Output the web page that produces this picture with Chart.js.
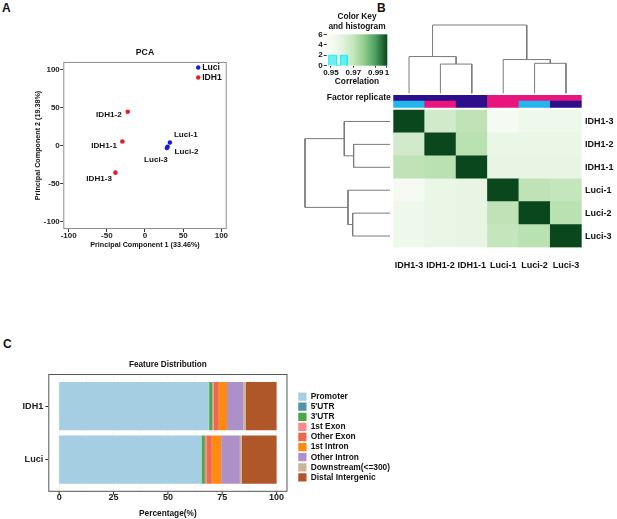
<!DOCTYPE html>
<html>
<head>
<meta charset="utf-8">
<script src="https://cdn.jsdelivr.net/npm/chart.js@4.4.1/dist/chart.umd.min.js"></script>
<style>
  html, body { margin: 0; padding: 0; background: #fff; }
  body { width: 617px; height: 519px; position: relative; overflow: hidden; font-family: 'Liberation Sans', Arial, sans-serif; }
  canvas { position: absolute; }
  .tag { position: absolute; font-weight: bold; font-size: 12px; line-height: 12px; color: #111; }
</style>
</head>
<body>
<div class="tag" style="left:2px;top:2px">A</div>
<div class="tag" style="left:377px;top:2px">B</div>
<div class="tag" style="left:3px;top:338px">C</div>
<canvas id="pca" width="215" height="215" style="left:25px;top:40px"></canvas>
<canvas id="key" width="100" height="85" style="left:300px;top:5px"></canvas>
<canvas id="topTree" width="215" height="80" style="left:380px;top:20px"></canvas>
<canvas id="sideTree" width="105" height="160" style="left:295px;top:100px"></canvas>
<canvas id="heat" width="307" height="195" style="left:310px;top:85px"></canvas>
<canvas id="feat" width="400" height="164" style="left:0px;top:355px"></canvas>
<script>
// ---- data: PCA
const idhNames = ["IDH1-1", "IDH1-2", "IDH1-3"];
const idhPC1 = [-29.6, -22.6, -38.7];
const idhPC2 = [5.2, 44.4, -35.8];
const luciNames = ["Luci-1", "Luci-2", "Luci-3"];
const luciPC1 = [32.6, 29.6, 28.7];
const luciPC2 = [3.9, -1.7, -3.4];
const pcaTicks = [-100, -50, 0, 50, 100];

// ---- data: correlation heatmap (display order)
const sampleNames = ["IDH1-3", "IDH1-2", "IDH1-1", "Luci-1", "Luci-2", "Luci-3"];
const corrIDH13 = [1.000, 0.966, 0.971, 0.951, 0.955, 0.955];
const corrIDH12 = [0.966, 1.000, 0.972, 0.957, 0.957, 0.957];
const corrIDH11 = [0.971, 0.972, 1.000, 0.958, 0.958, 0.958];
const corrLuci1 = [0.951, 0.957, 0.958, 1.000, 0.971, 0.970];
const corrLuci2 = [0.955, 0.957, 0.958, 0.971, 1.000, 0.972];
const corrLuci3 = [0.955, 0.957, 0.958, 0.970, 0.972, 1.000];
const groupLevel = ["IDH1", "IDH1", "IDH1", "Luci", "Luci", "Luci"];
const replicateLevel = ["a", "b", "c", "b", "a", "c"];
// dendrogram merges (hclust style: negative = leaf, positive = earlier merge)
const mergeA = [-2, -1, -5, -4, 2];
const mergeB = [-3, 1, -6, 3, 4];
const mergeHeight = [0.428, 0.538, 0.439, 0.494, 1.0];
// colour key histogram
const keyTicks = [0.95, 0.97, 0.99, 1];
const keyCountTicks = [0, 2, 4, 6];
const histLow = [0.948, 0.9585];
const histHigh = [0.955, 0.9645];
const histCount = [2, 2];

// ---- data: feature distribution
const featureNames = ["Promoter", "5'UTR", "3'UTR", "1st Exon", "Other Exon", "1st Intron", "Other Intron", "Downstream(<=300)", "Distal Intergenic"];
const groups = ["IDH1", "Luci"];
const idh1Pct = [68.8, 0.2, 1.4, 0.7, 2.3, 3.8, 7.5, 1.0, 14.3];
const luciPct = [65.4, 0.2, 1.4, 1.0, 2.2, 4.3, 8.6, 0.8, 16.1];
const pctTicks = [0, 25, 50, 75, 100];

// ---- styles
const FONT = "'Liberation Sans', Arial, sans-serif";
Chart.defaults.font.family = FONT;
Chart.defaults.font.weight = "bold";
Chart.defaults.color = "#111";
Chart.defaults.animation = false;
Chart.defaults.responsive = false;
Chart.defaults.events = [];
Chart.defaults.plugins.tooltip.enabled = false;

const featureColors = ["#a6cee3", "#4f95a3", "#4aa946", "#f8898a", "#ec6a4b", "#fe8a12", "#ae90c8", "#c9b59b", "#b0572a"];
const greenStops = [[0.95, "#f7fcf5"], [0.96, "#e4f3e0"], [0.97, "#c4e6bc"], [0.98, "#8fcc8b"], [0.99, "#4a9e5f"], [1.0, "#0a471d"]];
const groupColors = { IDH1: "#2d0f8c", Luci: "#e8157f" };
const replicateColors = { a: "#22b6ee", b: "#e8157f", c: "#2d0f8c" };
const treeColor = "#7a7a7a";
const nudge = {
  "IDH1-1": [-5.5, 4, "right"], "IDH1-2": [-6, 3, "right"], "IDH1-3": [-3.5, 6.5, "right"],
  "Luci-1": [4, -7.5, "left"], "Luci-2": [7, 5, "left"], "Luci-3": [-11, 12, "center"]
};

function hexRgb(h) { return [1, 3, 5].map(i => parseInt(h.slice(i, i + 2), 16)); }
function corrColor(v) {
  if (v <= greenStops[0][0]) return greenStops[0][1];
  for (let i = 1; i < greenStops.length; i++) {
    if (v <= greenStops[i][0]) {
      const t = (v - greenStops[i - 1][0]) / (greenStops[i][0] - greenStops[i - 1][0]);
      const a = hexRgb(greenStops[i - 1][1]), b = hexRgb(greenStops[i][1]);
      return "rgb(" + a.map((c, k) => Math.round(c + (b[k] - c) * t)).join(",") + ")";
    }
  }
  return greenStops[greenStops.length - 1][1];
}
function fixedTicks(list) { return s => { s.ticks = list.map(v => ({ value: v })); }; }

// ================= A: PCA =================
const pcaPlugin = {
  id: "pcaExtras",
  afterDatasetsDraw(chart) {
    const { ctx, chartArea: a } = chart;
    ctx.save();
    ctx.strokeStyle = "#8c8c8c";
    ctx.lineWidth = 1;
    ctx.strokeRect(a.left + 0.5, a.top + 0.5, a.width - 1, a.height - 1);
    ctx.font = "bold 8.1px " + FONT;
    ctx.fillStyle = "#111";
    ctx.textBaseline = "middle";
    chart.data.datasets.forEach((ds, di) => {
      chart.getDatasetMeta(di).data.forEach((pt, i) => {
        const name = ds.names[i];
        const n = nudge[name];
        ctx.textAlign = n[2];
        ctx.fillText(name, pt.x + n[0], pt.y + n[1]);
      });
    });
    // legend inside panel
    chart.data.datasets.forEach((ds, di) => {
      const y = a.top + 5.5 + di * 10;
      ctx.fillStyle = ds.backgroundColor;
      ctx.beginPath();
      ctx.arc(a.right - 28.5, y, 2.2, 0, Math.PI * 2);
      ctx.fill();
      ctx.fillStyle = "#111";
      ctx.textAlign = "left";
      ctx.font = "bold 8.6px " + FONT;
      ctx.fillText(ds.label, a.right - 24.5, y);
    });
    ctx.restore();
  }
};

new Chart(document.getElementById("pca"), {
  type: "scatter",
  data: {
    datasets: [
      { label: "Luci", names: luciNames, data: luciPC1.map((x, i) => ({ x: x, y: luciPC2[i] })), backgroundColor: "#1a1ae0", pointRadius: 2.3, borderWidth: 0 },
      { label: "IDH1", names: idhNames, data: idhPC1.map((x, i) => ({ x: x, y: idhPC2[i] })), backgroundColor: "#e81e25", pointRadius: 2.3, borderWidth: 0 }
    ]
  },
  options: {
    layout: { padding: { left: 0, right: 13.3, top: 0, bottom: 0 } },
    plugins: {
      legend: { display: false },
      title: { display: true, text: "PCA", fullSize: false, font: { size: 8.7, weight: "bold" }, padding: { top: 7, bottom: 4.5 }, color: "#111" }
    },
    scales: {
      x: {
        min: -107, max: 107, afterBuildTicks: fixedTicks(pcaTicks),
        grid: { drawOnChartArea: false, tickLength: 3, color: "#333" }, border: { display: false },
        ticks: { font: { size: 8, lineHeight: 1 }, padding: 0, color: "#222", autoSkip: false, maxRotation: 0 },
        title: { display: true, text: "Principal Component 1 (33.46%)", font: { size: 7.2, weight: "bold" }, padding: { top: 0, bottom: 5.5 }, color: "#111" },
        afterFit(s) { s.height = 26; }
      },
      y: {
        min: -110, max: 110, afterBuildTicks: fixedTicks(pcaTicks),
        grid: { drawOnChartArea: false, tickLength: 3, color: "#333" }, border: { display: false },
        ticks: { font: { size: 8 }, padding: 0.5, color: "#222", autoSkip: false },
        title: { display: true, text: "Principal Component 2 (19.38%)", font: { size: 7.2, weight: "bold" }, padding: { top: 8.5, bottom: 0 }, color: "#111" },
        afterFit(s) { s.width = 38.3; }
      }
    }
  },
  plugins: [pcaPlugin]
});

// ================= B: colour key =================
const keyPlugin = {
  id: "keyGradient",
  beforeDatasetsDraw(chart) {
    const { ctx, chartArea: a, scales: { x } } = chart;
    const x0 = x.getPixelForValue(x.min), x1 = x.getPixelForValue(x.max);
    const g = ctx.createLinearGradient(x0, 0, x1, 0);
    for (let i = 0; i <= 40; i++) {
      const v = x.min + (x.max - x.min) * i / 40;
      g.addColorStop(i / 40, corrColor(v));
    }
    ctx.save();
    ctx.fillStyle = g;
    ctx.fillRect(a.left, a.top, a.width, a.height);
    ctx.restore();
  }
};
const histPoints = [];
histLow.forEach((lo, i) => {
  histPoints.push({ x: lo, y: 0 }, { x: lo, y: histCount[i] }, { x: histHigh[i], y: histCount[i] }, { x: histHigh[i], y: 0 });
});
new Chart(document.getElementById("key"), {
  type: "scatter",
  data: { datasets: [{ data: histPoints, showLine: true, fill: "origin", pointRadius: 0, borderColor: "#19f0f0", borderWidth: 1, backgroundColor: "rgba(60,235,245,0.75)", tension: 0 }] },
  options: {
    layout: { padding: { left: 0, right: 12.7, top: 0, bottom: 0 } },
    plugins: {
      legend: { display: false },
      title: { display: true, text: ["Color Key", "and histogram"], fullSize: false, font: { size: 8.3, weight: "bold" }, padding: { top: 6.7, bottom: 2.7 }, color: "#111" }
    },
    scales: {
      x: {
        min: 0.9462, max: 1.0003, afterBuildTicks: fixedTicks(keyTicks),
        grid: { drawOnChartArea: false, tickLength: 2, color: "#333" }, border: { display: false },
        ticks: { font: { size: 8, lineHeight: 1 }, padding: 1, autoSkip: false, maxRotation: 0, minRotation: 0, callback: v => (v === 1 ? "1" : v.toFixed(2)) },
        title: { display: true, text: "Correlation", font: { size: 8.3, weight: "bold" }, padding: { top: 0, bottom: 3.3 } },
        afterFit(s) { s.height = 24.3; }
      },
      y: {
        min: 0, max: 6, afterBuildTicks: fixedTicks(keyCountTicks),
        ticks: { font: { size: 8, lineHeight: 1 }, padding: 1, autoSkip: false },
        grid: { drawOnChartArea: false, tickLength: 3, color: "#333" }, border: { display: false },
        afterFit(s) { s.width = 26.7; }
      }
    }
  },
  plugins: [keyPlugin]
});

// ================= B: dendrograms =================
function treeDatasets(vertical) {
  const pos = [], hgt = [];
  const node = k => (k < 0 ? { p: -k - 1, h: 0 } : { p: pos[k - 1], h: hgt[k - 1] });
  const sets = [];
  mergeA.forEach((a, i) => {
    const na = node(a), nb = node(mergeB[i]), h = mergeHeight[i];
    pos.push((na.p + nb.p) / 2);
    hgt.push(h);
    const pts = [[na.p, na.h], [na.p, h], [nb.p, h], [nb.p, nb.h]];
    sets.push({
      data: pts.map(q => (vertical ? { x: q[0], y: q[1] } : { x: q[1], y: q[0] })),
      showLine: true, pointRadius: 0, borderColor: treeColor, borderWidth: 1, clip: false
    });
  });
  return sets;
}
new Chart(document.getElementById("topTree"), {
  type: "scatter",
  data: { datasets: treeDatasets(true) },
  options: {
    layout: { padding: { left: 13.3, right: 13.3, top: 5, bottom: 6.7 } },
    plugins: { legend: { display: false } },
    scales: { x: { display: false, min: -0.5, max: 5.5 }, y: { display: false, min: 0, max: 1 } }
  }
});
new Chart(document.getElementById("sideTree"), {
  type: "scatter",
  data: { datasets: treeDatasets(false) },
  options: {
    layout: { padding: { left: 10, right: 10, top: 10, bottom: 12.5 } },
    plugins: { legend: { display: false } },
    scales: { x: { display: false, min: 0, max: 1, reverse: true }, y: { display: false, min: -0.5, max: 5.5, reverse: true } }
  }
});

// ================= B: heatmap =================
const corrRows = [corrIDH13, corrIDH12, corrIDH11, corrLuci1, corrLuci2, corrLuci3];
const gapH = 0.115, factorH = 0.27;
const heatSets = [];
for (let r = corrRows.length - 1; r >= 0; r--) {
  heatSets.push({ data: sampleNames.map(() => 1), backgroundColor: corrRows[r].map(corrColor) });
}
heatSets.push({ data: sampleNames.map(() => gapH), backgroundColor: "rgba(255,255,255,0)" });
heatSets.push({ data: sampleNames.map(() => factorH), backgroundColor: replicateLevel.map(k => replicateColors[k]) });
heatSets.push({ data: sampleNames.map(() => factorH), backgroundColor: groupLevel.map(k => groupColors[k]) });
const heatTop = corrRows.length + gapH + 2 * factorH;

const factorLabel = {
  id: "factorLabel",
  afterDraw(chart) {
    const { ctx, chartArea: a, scales: { y } } = chart;
    ctx.save();
    ctx.font = "bold 8.6px " + FONT;
    ctx.fillStyle = "#111";
    ctx.textAlign = "right";
    ctx.textBaseline = "middle";
    ctx.fillText("Factor replicate", a.left - 2.5, y.getPixelForValue(heatTop - factorH / 2));
    ctx.restore();
  }
};
new Chart(document.getElementById("heat"), {
  type: "bar",
  data: { labels: sampleNames, datasets: heatSets },
  options: {
    layout: { padding: { left: 83.3, right: 0, top: 10, bottom: 0 } },
    plugins: { legend: { display: false } },
    datasets: { bar: { barPercentage: 1, categoryPercentage: 1, borderWidth: 0 } },
    scales: {
      x: {
        stacked: true, grid: { display: false, drawTicks: false }, border: { display: false },
        ticks: { font: { size: 9 }, padding: 13, maxRotation: 0, autoSkip: false },
        afterFit(s) { s.height = 32.5; }
      },
      y: {
        stacked: true, position: "right", min: 0, max: heatTop,
        grid: { display: false, drawTicks: false }, border: { display: false },
        afterBuildTicks(s) { s.ticks = sampleNames.map((_, i) => ({ value: i + 0.5 })); },
        ticks: { font: { size: 9 }, padding: 3.3, autoSkip: false, callback: v => sampleNames[Math.round(sampleNames.length - 0.5 - v)] },
        afterFit(s) { s.width = 35.3; }
      }
    }
  },
  plugins: [factorLabel]
});

// ================= C: feature distribution =================
const panelC = {
  id: "panelC",
  beforeDatasetsDraw(chart) {
    const { ctx, chartArea: a, scales: { x, y } } = chart;
    const band = Math.abs(y.getPixelForValue(1) - y.getPixelForValue(0));
    const top = a.top - 0.1 * band, bottom = a.bottom + 0.1 * band;
    ctx.save();
    ctx.strokeStyle = "#ececec";
    ctx.lineWidth = 0.6;
    for (let v = 0; v <= 100; v += 12.5) {
      const px = x.getPixelForValue(v);
      ctx.beginPath(); ctx.moveTo(px, top); ctx.lineTo(px, bottom); ctx.stroke();
    }
    ctx.restore();
  },
  afterDatasetsDraw(chart) {
    const { ctx, chartArea: a, scales: { x, y } } = chart;
    const band = Math.abs(y.getPixelForValue(1) - y.getPixelForValue(0));
    const top = a.top - 0.1 * band, bottom = a.bottom + 0.1 * band;
    ctx.save();
    ctx.strokeStyle = "#555";
    ctx.lineWidth = 1;
    ctx.strokeRect(a.left + 0.5, top + 0.5, a.width - 1, bottom - top - 1);
    ctx.strokeStyle = "#333";
    pctTicks.forEach(v => {
      const px = x.getPixelForValue(v);
      ctx.beginPath(); ctx.moveTo(px, bottom); ctx.lineTo(px, bottom + 3); ctx.stroke();
    });
    ctx.restore();
  }
};
new Chart(document.getElementById("feat"), {
  type: "bar",
  data: {
    labels: groups,
    datasets: featureNames.map((name, i) => ({
      label: name, data: [idh1Pct[i], luciPct[i]], backgroundColor: featureColors[i], borderWidth: 0
    }))
  },
  options: {
    indexAxis: "y",
    layout: { padding: 0 },
    datasets: { bar: { barPercentage: 0.9, categoryPercentage: 1 } },
    plugins: {
      title: { display: true, text: "Feature Distribution", fullSize: false, font: { size: 8.2, weight: "bold" }, padding: { top: 5, bottom: 9.5 }, color: "#111" },
      legend: {
        position: "right", maxWidth: 160,
        labels: { boxWidth: 8.3, boxHeight: 8.3, padding: 1.75, font: { size: 8.35, weight: "bold" }, color: "#111" }
      }
    },
    scales: {
      x: {
        stacked: true, min: -5, max: 105, afterBuildTicks: fixedTicks(pctTicks),
        grid: { display: false, drawTicks: false }, border: { display: false },
        ticks: { font: { size: 9, lineHeight: 1 }, padding: 7, color: "#222", autoSkip: false, maxRotation: 0 },
        title: { display: true, text: "Percentage(%)", font: { size: 8.3, weight: "bold" }, padding: { top: 0, bottom: 0.7 } },
        afterFit(s) { s.height = 32.55; }
      },
      y: {
        stacked: true,
        grid: { drawOnChartArea: false, offset: false, tickLength: 3, color: "#333" }, border: { display: false },
        ticks: { font: { size: 9.1 }, padding: 2, color: "#222" },
        afterFit(s) { s.width = 48.3; }
      },
      gap: {
        type: "linear", position: "right", display: true,
        grid: { display: false, drawTicks: false }, border: { display: false }, ticks: { display: false },
        afterFit(s) { s.width = 9; }
      }
    }
  },
  plugins: [panelC]
});
</script>
</body>
</html>
